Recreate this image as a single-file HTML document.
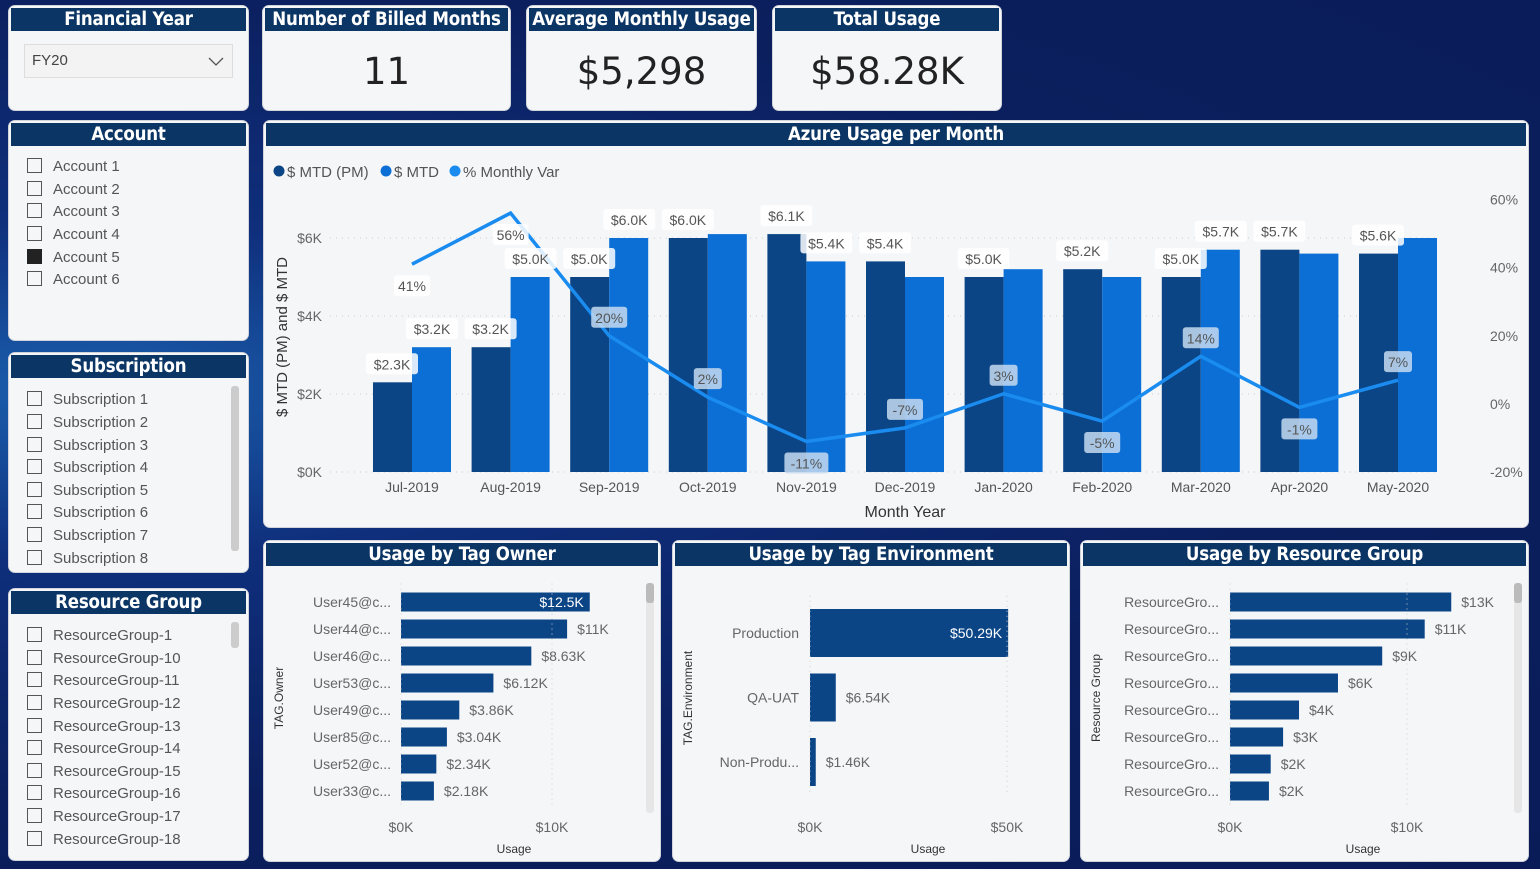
<!DOCTYPE html>
<html><head><meta charset="utf-8">
<style>
*{box-sizing:border-box;margin:0;padding:0}
body{width:1540px;height:869px;overflow:hidden;background:#0c2366;font-family:"Liberation Sans",sans-serif;position:relative}
.bg{position:absolute;inset:0;background:radial-gradient(ellipse at 5% 45%,#1a5fae 0%,#0f2f7c 25%,#0b1f5e 60%,#0a1c58 100%)}
.panel{position:absolute;background:#f5f6f8;border-radius:7px;border:1px solid #d0d4da;overflow:hidden}
.hdr{position:absolute;left:2px;right:2px;top:2px;height:23px;background:#0b3564;color:#fff;font-size:18.5px;font-weight:bold;text-align:center;line-height:23px;font-family:"Liberation Sans Narrow","DejaVu Sans Condensed",sans-serif;white-space:nowrap;letter-spacing:-0.2px}
.big{position:absolute;left:0;right:0;top:44px;text-align:center;font-size:37px;color:#222;font-family:"DejaVu Sans","Liberation Sans",sans-serif}
.item{position:absolute;left:18px;font-size:15px;color:#555;height:20px;line-height:20px}
.item i{display:inline-block;width:15px;height:15px;border:1.5px solid #555;vertical-align:-2px;margin-right:11px}
.item i.on{background:#222;border-color:#222}
.sb{position:absolute;width:8px;background:#ccc;border-radius:3px}
svg text{font-family:"Liberation Sans",sans-serif}
</style></head><body>
<div class="bg"></div>

<div class="panel" style="left:8px;top:5px;width:241px;height:106px">
 <div class="hdr">Financial Year</div>
 <div style="position:absolute;left:15px;top:38px;width:209px;height:34px;border:1px solid #ddd;background:#f3f3f3;font-size:15px;color:#444;line-height:32px;padding-left:7px">FY20<svg width="16" height="10" style="position:absolute;right:8px;top:12px"><polyline points="1,1 8,8 15,1" fill="none" stroke="#555" stroke-width="1.3"/></svg></div>
</div>

<div class="panel" style="left:262px;top:5px;width:249px;height:106px">
 <div class="hdr">Number of Billed Months</div>
 <div class="big">11</div>
</div>
<div class="panel" style="left:526px;top:5px;width:231px;height:106px">
 <div class="hdr">Average Monthly Usage</div>
 <div class="big">$5,298</div>
</div>
<div class="panel" style="left:772px;top:5px;width:230px;height:106px">
 <div class="hdr">Total Usage</div>
 <div class="big">$58.28K</div>
</div>

<div class="panel" style="left:8px;top:120px;width:241px;height:221px">
 <div class="hdr">Account</div>
 <div class="item" style="top:36px"><i></i>Account 1</div>
 <div class="item" style="top:59px"><i></i>Account 2</div>
 <div class="item" style="top:81px"><i></i>Account 3</div>
 <div class="item" style="top:104px"><i></i>Account 4</div>
 <div class="item" style="top:127px"><i class="on"></i>Account 5</div>
 <div class="item" style="top:149px"><i></i>Account 6</div>
</div>

<div class="panel" style="left:8px;top:352px;width:241px;height:221px">
 <div class="hdr">Subscription</div>
 <div class="item" style="top:37px"><i></i>Subscription 1</div>
 <div class="item" style="top:60px"><i></i>Subscription 2</div>
 <div class="item" style="top:83px"><i></i>Subscription 3</div>
 <div class="item" style="top:105px"><i></i>Subscription 4</div>
 <div class="item" style="top:128px"><i></i>Subscription 5</div>
 <div class="item" style="top:150px"><i></i>Subscription 6</div>
 <div class="item" style="top:173px"><i></i>Subscription 7</div>
 <div class="item" style="top:196px"><i></i>Subscription 8</div>
 <div class="sb" style="left:222px;top:33px;height:165px"></div>
</div>

<div class="panel" style="left:8px;top:588px;width:241px;height:273px">
 <div class="hdr">Resource Group</div>
 <div class="item" style="top:37px"><i></i>ResourceGroup-1</div>
 <div class="item" style="top:60px"><i></i>ResourceGroup-10</div>
 <div class="item" style="top:82px"><i></i>ResourceGroup-11</div>
 <div class="item" style="top:105px"><i></i>ResourceGroup-12</div>
 <div class="item" style="top:128px"><i></i>ResourceGroup-13</div>
 <div class="item" style="top:150px"><i></i>ResourceGroup-14</div>
 <div class="item" style="top:173px"><i></i>ResourceGroup-15</div>
 <div class="item" style="top:195px"><i></i>ResourceGroup-16</div>
 <div class="item" style="top:218px"><i></i>ResourceGroup-17</div>
 <div class="item" style="top:241px"><i></i>ResourceGroup-18</div>
 <div class="sb" style="left:222px;top:33px;height:26px"></div>
</div>

<div class="panel" style="left:263px;top:120px;width:1266px;height:408px">
 <div class="hdr">Azure Usage per Month</div>
</div>
<svg id="main" width="1540" height="869" style="position:absolute;left:0;top:0"></svg>

<div class="panel" style="left:263px;top:540px;width:398px;height:322px">
 <div class="hdr">Usage by Tag Owner</div>
 <div class="sb" style="left:382px;top:42px;height:230px;background:#e6e6e6"><div style="height:20px;background:#bbb;border-radius:3px"></div></div>
</div>
<div class="panel" style="left:672px;top:540px;width:398px;height:322px">
 <div class="hdr">Usage by Tag Environment</div>
</div>
<div class="panel" style="left:1080px;top:540px;width:449px;height:322px">
 <div class="hdr">Usage by Resource Group</div>
 <div class="sb" style="left:433px;top:42px;height:230px;background:#e6e6e6"><div style="height:20px;background:#bbb;border-radius:3px"></div></div>
</div>
<svg id="bars" width="1540" height="869" style="position:absolute;left:0;top:0"></svg>

<script>
const months=["Jul-2019","Aug-2019","Sep-2019","Oct-2019","Nov-2019","Dec-2019","Jan-2020","Feb-2020","Mar-2020","Apr-2020","May-2020"];
const mtdPM=[2.3,3.2,5.0,6.0,6.1,5.4,5.0,5.2,5.0,5.7,5.6];
const mtd=[3.2,5.0,6.0,6.1,5.4,5.0,5.2,5.0,5.7,5.6,6.0];
const monthlyVar=[41,56,20,2,-11,-7,3,-5,14,-1,7];
const showMtdLabel=[true,true,true,false,true,false,false,false,true,false,false];
const varLabelBelow=[true,true,false,false,true,false,false,true,false,true,false];
const leftTicks=[0,2,4,6];
const rightTicks=[-20,0,20,40,60];

const ownerNames=["User45@c...","User44@c...","User46@c...","User53@c...","User49@c...","User85@c...","User52@c...","User33@c..."];
const ownerVals=[12.5,11,8.63,6.12,3.86,3.04,2.34,2.18];
const ownerLabels=["$12.5K","$11K","$8.63K","$6.12K","$3.86K","$3.04K","$2.34K","$2.18K"];
const envNames=["Production","QA-UAT","Non-Produ..."];
const envVals=[50.29,6.54,1.46];
const envLabels=["$50.29K","$6.54K","$1.46K"];
const rgNames=["ResourceGro...","ResourceGro...","ResourceGro...","ResourceGro...","ResourceGro...","ResourceGro...","ResourceGro...","ResourceGro..."];
const rgVals=[12.5,11,8.6,6.1,3.9,3.0,2.3,2.2];
const rgLabels=["$13K","$11K","$9K","$6K","$4K","$3K","$2K","$2K"];

const NS="http://www.w3.org/2000/svg";
function mk(svg,tag,attrs,txt){const e=document.createElementNS(NS,tag);for(const k in attrs)e.setAttribute(k,attrs[k]);if(txt!==undefined)e.textContent=txt;svg.appendChild(e);return e;}

const S=document.getElementById('main');
const xC=i=>412+i*98.6;
const yL=v=>472-v*39;
const yR=p=>404-p*3.41;

[["#0b4586","$ MTD (PM)",273],["#0b6fd6","$ MTD",380],["#1a8cf0","% Monthly Var",449]].forEach((l,i)=>{
 const c=mk(S,'circle',{cx:l[2]+6,cy:171,r:5.5,fill:l[0]});
 
 
 const t=mk(S,'text',{x:l[2]+14,y:177,'font-size':15,fill:'#555'},l[1]);
 
 
});
leftTicks.forEach(v=>{
 const g=mk(S,'line',{x1:330,x2:1440,y1:yL(v),y2:yL(v),stroke:'#ccc','stroke-dasharray':'1 5'});
 
 
 const t=mk(S,'text',{x:322,y:yL(v)+5,'font-size':14,fill:'#666','text-anchor':'end'},'$'+v+'K');
 
 
});
rightTicks.forEach(p=>{
 const t=mk(S,'text',{x:1490,y:yR(p)+5,'font-size':14,fill:'#666'},p+'%');
 
 
});
let yt=mk(S,'text',{x:0,y:0,'font-size':15,fill:'#333','text-anchor':'middle',transform:'translate(287,337) rotate(-90)'},'$ MTD (PM) and $ MTD');


let xt=mk(S,'text',{x:905,y:517,'font-size':16,fill:'#333','text-anchor':'middle'},'Month Year');


function lbl(svg,x,y,txt,bg){
 const w=txt.length*8+12;
 const r=mk(svg,'rect',{x:x-w/2,y:y-11,width:w,height:21,rx:3,fill:bg||'#fff','fill-opacity':0.85});
 
 
 const t=mk(svg,'text',{x:x,y:y+5,'font-size':14,fill:'#555','text-anchor':'middle'},txt);
 
 
}
months.forEach((m,i)=>{
 const x=xC(i);
 const b1=mk(S,'rect',{x:x-39,y:yL(mtdPM[i]),width:39,height:yL(0)-yL(mtdPM[i]),fill:'#0b4586'});
 
 
 const b2=mk(S,'rect',{x:x,y:yL(mtd[i]),width:39,height:yL(0)-yL(mtd[i]),fill:'#0b6fd6'});
 
 
 const t=mk(S,'text',{x:x,y:492,'font-size':14,fill:'#555','text-anchor':'middle'},m);
 
 
});
const pts=monthlyVar.map((p,i)=>xC(i)+','+yR(p)).join(' ');
const ln=mk(S,'polyline',{points:pts,fill:'none',stroke:'#1a8cf0','stroke-width':3.5});


months.forEach((m,i)=>{
 const x=xC(i);
 lbl(S,x-20,yL(mtdPM[i])-18,'$'+mtdPM[i].toFixed(1)+'K');
 if(showMtdLabel[i]) lbl(S,x+20,yL(mtd[i])-18,'$'+mtd[i].toFixed(1)+'K');
 const p=monthlyVar[i];
 lbl(S,x,yR(p)+(varLabelBelow[i]?22:-18),p+'%',i<2?'#fff':'#c5daf0');
});

const B=document.getElementById('bars');
function hbar(names,vals,labels,x0,pxPerK,y0,step,bh,ticks,tickLbl,nameX,axisX,titleY,inside){
 names.forEach((n,i)=>{
  const cy=y0+i*step;
  const t=mk(B,'text',{x:nameX,y:cy+5,'font-size':14,fill:'#666','text-anchor':'end'},n);
  
  
  const w=vals[i]*pxPerK;
  const r=mk(B,'rect',{x:x0,y:cy-bh/2,width:w,height:bh,fill:'#0b4586'});
  
  
  const ins=inside&&i===0;
  const v=mk(B,'text',{x:ins?x0+w-6:x0+w+10,y:cy+5,'font-size':14,fill:ins?'#fff':'#666','text-anchor':ins?'end':'start'},labels[i]);
  
  
 });
 ticks.forEach((tk,j)=>{
  const gx=x0+tk*pxPerK;
  const g=mk(B,'line',{x1:gx,x2:gx,y1:y0-step/2-5,y2:y0+names.length*step-step/2,stroke:'#ccc','stroke-dasharray':'1 4'});
  
  
  const t=mk(B,'text',{x:gx,y:832,'font-size':14,fill:'#666','text-anchor':'middle'},tickLbl[j]);
  
  
 });
 const at=mk(B,'text',{x:axisX,y:853,'font-size':12,fill:'#333','text-anchor':'middle'},'Usage');
 
 
 const yt=mk(B,'text',{x:0,y:0,'font-size':12,fill:'#333','text-anchor':'middle',transform:'translate('+titleY[0]+','+titleY[1]+') rotate(-90)'},titleY[2]);
 
 
}
hbar(ownerNames,ownerVals,ownerLabels,401,15.1,602,27,19,[0,10],['$0K','$10K'],391,514,[283,698,'TAG.Owner'],true);
hbar(envNames,envVals,envLabels,810,3.94,633,64.5,48,[0,50],['$0K','$50K'],799,928,[692,698,'TAG.Environment'],true);
hbar(rgNames,rgVals,rgLabels,1230,17.7,602,27,19,[0,10],['$0K','$10K'],1219,1363,[1100,698,'Resource Group'],false);
</script>
</body></html>
